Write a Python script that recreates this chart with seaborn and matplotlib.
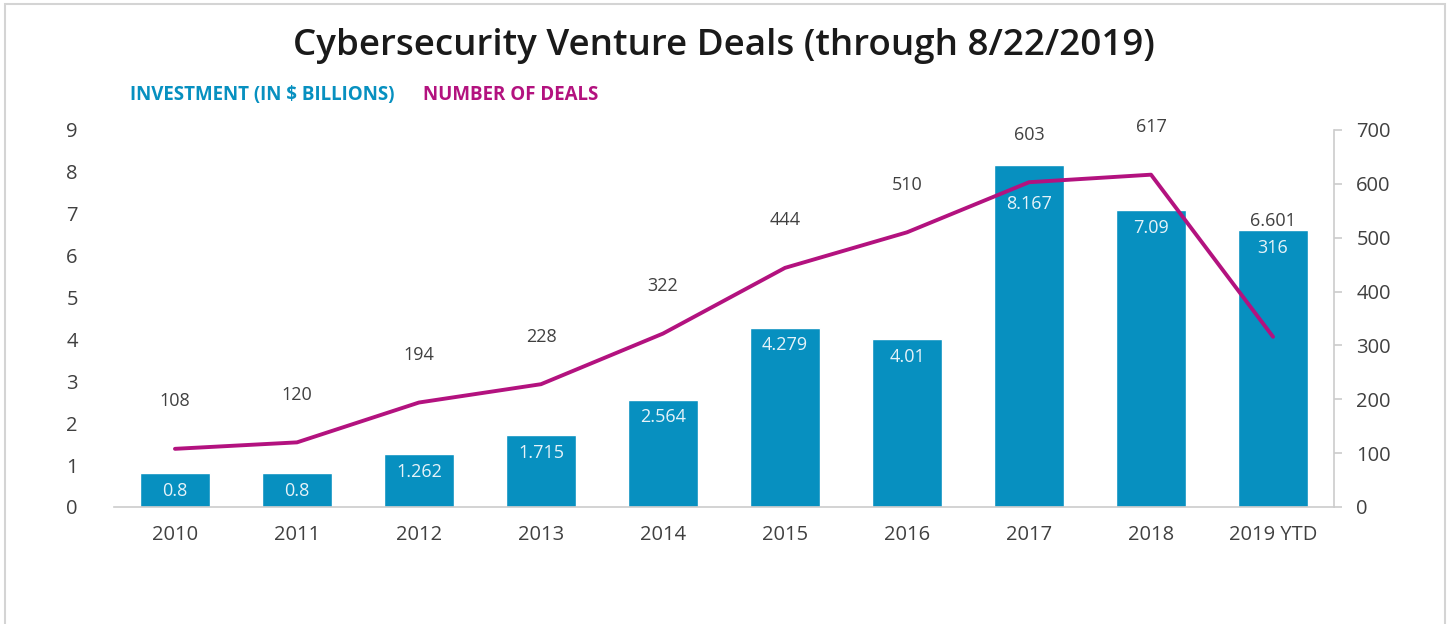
# %%
import pandas as pd
import matplotlib.pyplot as plt
import seaborn as sns
from matplotlib.patches import Rectangle

# %%
# dados
anos = ['2010', '2011', '2012', '2013', '2014', '2015', '2016', '2017', '2018', '2019 YTD']
investimento = [0.8, 0.8, 1.262, 1.715, 2.564, 4.279, 4.01, 8.167, 7.09, 6.601]
num_deals = [108, 120, 194, 228, 322, 444, 510, 603, 617, 316]

df = pd.DataFrame({'ano': anos, 'investimento': investimento, 'deals': num_deals})

azul = '#0790c0'
magenta = '#b3127f'
cinza_txt = '#404040'
cinza_linha = '#cccccc'

# %%
sns.set_theme(style='white')
plt.rcParams['font.family'] = ['Open Sans', 'DejaVu Sans']

fig = plt.figure(figsize=(14.48, 6.24), dpi=100)
ax = fig.add_axes([0.0787, 0.1875, 0.8426, 0.6042])

sns.barplot(data=df, x='ano', y='investimento', color=azul, saturation=1,
            width=0.57, ax=ax)

ax2 = ax.twinx()
sns.lineplot(x=list(range(len(anos))), y=df['deals'], color=magenta,
             linewidth=2.8, sort=False, ax=ax2)

ax.set_xlim(-0.5, len(anos) - 0.5)
ax.set_ylim(0, 9)
ax2.set_ylim(0, 700)
ax.set_yticks(range(0, 10))
ax2.set_yticks(range(0, 701, 100))

ax.set_xlabel('')
ax.set_ylabel('')
ax2.set_ylabel('')

for a in (ax, ax2):
    for s in ['top', 'left', 'right', 'bottom']:
        a.spines[s].set_visible(False)
ax.spines['bottom'].set_visible(True)
ax.spines['bottom'].set_color(cinza_linha)
ax.spines['bottom'].set_linewidth(1.2)
ax2.spines['right'].set_visible(True)
ax2.spines['right'].set_color(cinza_linha)
ax2.spines['right'].set_linewidth(1.2)

ax.tick_params(axis='y', left=False, labelsize=14.5, labelcolor=cinza_txt, pad=20)
ax.tick_params(axis='x', bottom=False, labelsize=14.5, labelcolor=cinza_txt, pad=7)
ax2.tick_params(axis='y', right=True, direction='out', length=6, width=1.2,
                color=cinza_linha, labelsize=14.5, labelcolor=cinza_txt, pad=10)

# rótulos das barras (dentro) e dos deals (acima)
n = len(anos)
for i in range(n):
    inv = investimento[i]
    d = num_deals[i]
    if i == n - 1:
        # no original o último ponto tem os rótulos trocados
        ax.text(i, inv - 0.42, str(d), ha='center', va='center',
                color='#e6f3f9', fontsize=13)
        ax.text(i, inv + 0.22, f'{inv:g}', ha='center', va='center',
                color=cinza_txt, fontsize=13)
        continue
    off = 0.93 if i == 7 else 0.42
    ax.text(i, inv - off, f'{inv:g}', ha='center', va='center',
            color='#e6f3f9', fontsize=13)
    ax2.text(i, d + 88, str(d), ha='center', va='center',
             color=cinza_txt, fontsize=13)

# título e legenda em texto
fig.text(0.5, 0.927, 'Cybersecurity Venture Deals (through 8/22/2019)',
         ha='center', va='center', fontsize=26.5, fontweight='semibold', color='#1a1a1a')
fig.text(0.0895, 0.848, 'INVESTMENT (IN $ BILLIONS)', ha='left', va='center',
         fontsize=13.5, fontweight='bold', color=azul)
fig.text(0.292, 0.848, 'NUMBER OF DEALS', ha='left', va='center',
         fontsize=13.5, fontweight='bold', color=magenta)

# moldura
fig.patches.append(Rectangle((0.0035, -0.01), 0.9945, 1.0036,
                             transform=fig.transFigure, fill=False,
                             edgecolor='#d4d4d4', linewidth=1.5))

fig.savefig('out.png', dpi=100)
